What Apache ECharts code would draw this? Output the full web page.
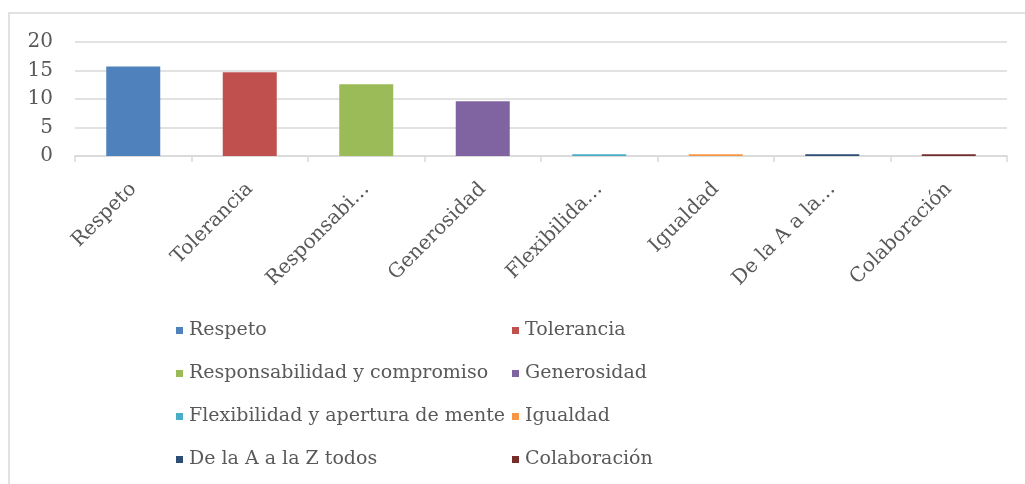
<!DOCTYPE html>
<html lang="es">
<head>
    <meta charset="UTF-8">
    <script src="https://cdn.jsdelivr.net/npm/echarts@6/dist/echarts.min.js"></script>
    <title>Valores</title>
    <style>
        html, body { margin: 0; padding: 0; background: #fff; }
    </style>
</head>
<body>
<div id="main" style="width: 1025px;height:484px;"></div>

<script type="text/javascript">
    // datos
    var categories = ['Respeto', 'Tolerancia', 'Responsabilidad y compromiso', 'Generosidad',
        'Flexibilidad y apertura de mente', 'Igualdad', 'De la A a la Z todos', 'Colaboración'];
    var tickLabels = ['Respeto', 'Tolerancia', 'Responsabi…', 'Generosidad',
        'Flexibilida…', 'Igualdad', 'De la A a la…', 'Colaboración'];
    var values = [15.7, 14.7, 12.6, 9.6, 0.3, 0.3, 0.3, 0.3];
    var colors = ['#4f81bd', '#c0504d', '#9bbb59', '#8064a2', '#4bacc6', '#f79646', '#2c4d75', '#772c2a'];
    var yTicks = [0, 5, 10, 15, 20];

    var fontFam = '"DejaVu Serif", serif';
    var txtColor = '#595959';

    var myChart = echarts.init(document.getElementById('main'));

    // una serie por categoria, apiladas para que queden centradas
    var series = categories.map(function (name, i) {
        return {
            name: name,
            type: 'bar',
            stack: 'total',
            barWidth: 54,
            itemStyle: { color: colors[i] },
            data: categories.map(function (c, j) { return j === i ? values[i] : '-'; })
        };
    });

    var legendBase = {
        orient: 'vertical',
        top: 316,
        icon: 'rect',
        itemWidth: 7,
        itemHeight: 7,
        itemGap: 24,
        textStyle: { fontFamily: fontFam, fontSize: 19, color: txtColor, padding: [0, 0, 0, 1] },
        selectedMode: false
    };

    var option = {
        animation: false,
        color: colors,
        graphic: [{
            type: 'rect',
            shape: { x: 9, y: 13, width: 1030, height: 500 },
            style: { fill: 'none', stroke: '#d9d9d9', lineWidth: 1.5 },
            silent: true
        }],
        legend: [
            Object.assign({}, legendBase, {
                left: 171,
                data: [categories[0], categories[2], categories[4], categories[6]]
            }),
            Object.assign({}, legendBase, {
                left: 507,
                data: [categories[1], categories[3], categories[5], categories[7]]
            })
        ],
        grid: { left: 75, right: 18, top: 42, bottom: 328, containLabel: false },
        xAxis: {
            type: 'category',
            data: tickLabels,
            axisLine: { lineStyle: { color: '#d9d9d9', width: 1.5 } },
            axisTick: { show: true, length: 6, lineStyle: { color: '#d9d9d9', width: 1.5 } },
            axisLabel: {
                rotate: 45,
                interval: 0,
                margin: 30,
                fontFamily: fontFam,
                fontSize: 20,
                color: txtColor
            }
        },
        yAxis: {
            type: 'value',
            min: yTicks[0],
            max: yTicks[yTicks.length - 1],
            interval: 5,
            axisLine: { show: false },
            axisTick: { show: false },
            splitLine: { lineStyle: { color: '#d9d9d9', width: 1.5 } },
            axisLabel: {
                margin: 22,
                fontFamily: fontFam,
                fontSize: 20,
                color: txtColor
            }
        },
        series: series
    };
    myChart.setOption(option);
</script>
</body>
</html>
